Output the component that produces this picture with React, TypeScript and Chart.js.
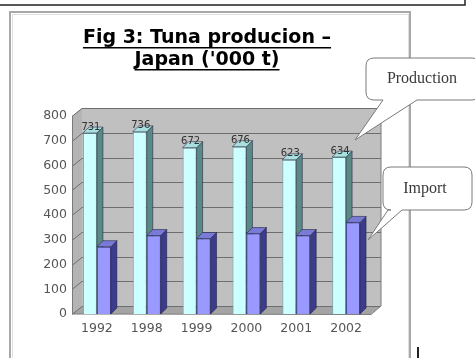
import React, { useEffect, useRef } from "react";
import { Chart, registerables } from "chart.js";

Chart.register(...registerables);

const years = ["1992", "1998", "1999", "2000", "2001", "2002"];
const production = [731, 736, 672, 676, 623, 634];
const imports = [272, 317, 305, 325, 317, 370];
const yMax = 800;
const yStep = 100;
const titleLines = ["Fig 3: Tuna producion \u2013", "Japan ('000 t)"];
const seriesNames = ["Production", "Import"];

const WDX = 10;
const WDY = 8;
const BDX = 6;
const BDY = 6;

const FONT = "'DejaVu Sans', Verdana, sans-serif";
const TITLE_SIZE = 19;
const TITLE_LH = 22 / 19;
const TITLE_PAD_TOP = 15;

const sideColors = ["#5a8a86", "#3c3c8c"];
const topColors = ["#a8e0e0", "#7a7ad8"];

function drawCallout(
  ctx: CanvasRenderingContext2D,
  x: number,
  y: number,
  w: number,
  h: number,
  r: number,
  t1: number,
  t2: number,
  tipX: number,
  tipY: number,
  text: string,
  textX: number
) {
  const b = y + h;
  const rr = x + w;
  ctx.save();
  ctx.beginPath();
  ctx.moveTo(x + r, y);
  ctx.lineTo(rr - r, y);
  ctx.quadraticCurveTo(rr, y, rr, y + r);
  ctx.lineTo(rr, b - r);
  ctx.quadraticCurveTo(rr, b, rr - r, b);
  ctx.lineTo(t2, b);
  ctx.lineTo(tipX, tipY);
  ctx.lineTo(t1, b);
  ctx.lineTo(x + r, b);
  ctx.quadraticCurveTo(x, b, x, b - r);
  ctx.lineTo(x, y + r);
  ctx.quadraticCurveTo(x, y, x + r, y);
  ctx.closePath();
  ctx.fillStyle = "#ffffff";
  ctx.fill();
  ctx.strokeStyle = "#7a7a7a";
  ctx.lineWidth = 1;
  ctx.stroke();
  ctx.fillStyle = "#3a3a3a";
  ctx.font = '16px "Liberation Serif", "Times New Roman", serif';
  ctx.textAlign = "center";
  ctx.textBaseline = "middle";
  ctx.fillText(text, textX, y + h / 2);
  ctx.restore();
}

function drawSidesAndTops(ctx: CanvasRenderingContext2D, meta: any, idx: number) {
  meta.data.forEach((el: any) => {
    const { x, y, base, width } = el.getProps(["x", "y", "base", "width"], true);
    const l = x - width / 2;
    const r = x + width / 2;
    ctx.fillStyle = sideColors[idx];
    ctx.beginPath();
    ctx.moveTo(r, y);
    ctx.lineTo(r + BDX, y - BDY);
    ctx.lineTo(r + BDX, base - BDY);
    ctx.lineTo(r, base);
    ctx.closePath();
    ctx.fill();
    ctx.strokeStyle = "rgba(30,30,60,0.7)";
    ctx.lineWidth = 0.8;
    ctx.stroke();
    ctx.fillStyle = topColors[idx];
    ctx.beginPath();
    ctx.moveTo(l, y);
    ctx.lineTo(l + BDX, y - BDY);
    ctx.lineTo(r + BDX, y - BDY);
    ctx.lineTo(r, y);
    ctx.closePath();
    ctx.fill();
    ctx.stroke();
  });
}

const pagePlugin = {
  id: "pageDecor",
  beforeDraw(chart: any) {
    const ctx = chart.ctx as CanvasRenderingContext2D;
    ctx.save();
    ctx.fillStyle = "#ffffff";
    ctx.fillRect(0, 0, chart.width, chart.height);
    // top text box border
    ctx.strokeStyle = "#222";
    ctx.lineWidth = 1.5;
    ctx.beginPath();
    ctx.moveTo(0, 5);
    ctx.lineTo(465, 5);
    ctx.lineTo(465, -2);
    ctx.stroke();
    // chart frame
    ctx.strokeStyle = "#a8a8a8";
    ctx.lineWidth = 2;
    ctx.strokeRect(10, 12, 400, 400);
    ctx.strokeStyle = "#e0e0e0";
    ctx.lineWidth = 1;
    ctx.strokeRect(12.5, 14.5, 396, 396);
    // small cursor mark
    ctx.fillStyle = "#222";
    ctx.fillRect(417, 347, 2, 11);
    ctx.restore();
  },
  beforeDatasetsDraw(chart: any) {
    const ctx = chart.ctx as CanvasRenderingContext2D;
    const { left: L, right: R, top: T, bottom: B } = chart.chartArea;
    const ys = chart.scales.y;
    ctx.save();
    // left wall
    ctx.fillStyle = "#b4b4b4";
    ctx.beginPath();
    ctx.moveTo(L, T);
    ctx.lineTo(L + WDX, T - WDY);
    ctx.lineTo(L + WDX, B - WDY);
    ctx.lineTo(L, B);
    ctx.closePath();
    ctx.fill();
    // back wall
    ctx.fillStyle = "#c0c0c0";
    ctx.fillRect(L + WDX, T - WDY, R - L, B - T);
    // floor
    ctx.fillStyle = "#a4a4a4";
    ctx.beginPath();
    ctx.moveTo(L, B);
    ctx.lineTo(L + WDX, B - WDY);
    ctx.lineTo(R + WDX, B - WDY);
    ctx.lineTo(R, B);
    ctx.closePath();
    ctx.fill();
    // gridlines
    ctx.strokeStyle = "#6e6e6e";
    ctx.lineWidth = 1;
    for (let v = 0; v <= yMax; v += yStep) {
      const y = Math.round(ys.getPixelForValue(v)) + 0.5;
      ctx.beginPath();
      ctx.moveTo(L, y);
      ctx.lineTo(L + WDX, y - WDY);
      ctx.lineTo(R + WDX, y - WDY);
      ctx.stroke();
    }
    // wall edges
    ctx.strokeStyle = "#7a7a7a";
    ctx.beginPath();
    ctx.moveTo(L + 0.5, T);
    ctx.lineTo(L + 0.5, B);
    ctx.lineTo(R, B + 0.5);
    ctx.lineTo(R + WDX, B - WDY);
    ctx.lineTo(R + WDX, T - WDY);
    ctx.stroke();
    ctx.restore();
  },
  afterDatasetsDraw(chart: any) {
    const ctx = chart.ctx as CanvasRenderingContext2D;
    const prodMeta = chart.getDatasetMeta(0);
    const impMeta = chart.getDatasetMeta(1);
    ctx.save();
    drawSidesAndTops(ctx, prodMeta, 0);
    // redraw import front faces on top of production side faces
    impMeta.data.forEach((el: any) => el.draw(ctx, chart.chartArea));
    drawSidesAndTops(ctx, impMeta, 1);
    // value labels
    ctx.fillStyle = "#333";
    ctx.font = `10px ${FONT}`;
    ctx.textAlign = "center";
    ctx.textBaseline = "middle";
    prodMeta.data.forEach((el: any, i: number) => {
      const { x, y } = el.getProps(["x", "y"], true);
      ctx.fillText(String(production[i]), x + 1, y - 6);
    });
    ctx.restore();
  },
  afterDraw(chart: any) {
    const ctx = chart.ctx as CanvasRenderingContext2D;
    const tb = chart.titleBlock;
    ctx.save();
    if (tb) {
      const cx = (tb.left + tb.right) / 2;
      const lh = TITLE_SIZE * TITLE_LH;
      ctx.font = `bold ${TITLE_SIZE}px ${FONT}`;
      ctx.fillStyle = "#000";
      titleLines.forEach((line, i) => {
        const w = ctx.measureText(line).width;
        const cy = tb.top + TITLE_PAD_TOP + lh / 2 + i * lh;
        ctx.fillRect(cx - w / 2, cy + 9, w, 1.5);
      });
    }
    ctx.restore();
    drawCallout(ctx, 366, 58, 114, 42, 8, 383, 417, 355, 140, seriesNames[0], 422);
    drawCallout(ctx, 383, 167, 89, 43, 8, 388, 402, 368, 240, seriesNames[1], 425);
  },
};

export default function App() {
  const ref = useRef<HTMLCanvasElement | null>(null);
  useEffect(() => {
    if (!ref.current) return;
    const chart = new Chart(ref.current, {
      type: "bar",
      data: {
        labels: years,
        datasets: [
          {
            label: seriesNames[0],
            data: production,
            backgroundColor: "#ccffff",
            borderColor: "#7fa8a8",
            borderWidth: 1,
          },
          {
            label: seriesNames[1],
            data: imports,
            backgroundColor: "#9999ff",
            borderColor: "#4a4aa0",
            borderWidth: 1,
          },
        ],
      },
      options: {
        responsive: false,
        animation: false,
        devicePixelRatio: 1,
        layout: { padding: { left: 43, right: 104, top: 12, bottom: 14 } },
        datasets: { bar: { categoryPercentage: 0.56, barPercentage: 1 } },
        plugins: {
          legend: { display: false },
          tooltip: { enabled: false },
          title: {
            display: true,
            text: titleLines,
            color: "#000",
            font: { family: FONT, size: TITLE_SIZE, weight: "bold", lineHeight: TITLE_LH },
            padding: { top: TITLE_PAD_TOP, bottom: 45 },
          },
        },
        scales: {
          x: {
            grid: { display: false, drawTicks: false },
            border: { display: false },
            ticks: { color: "#555", padding: 7.5, font: { family: FONT, size: 12.5 } },
          },
          y: {
            min: 0,
            max: yMax,
            afterFit: (s: any) => {
              s.width = 29;
            },
            grid: { display: false, drawTicks: false },
            border: { display: false },
            ticks: {
              stepSize: yStep,
              color: "#555",
              padding: 5,
              font: { family: FONT, size: 12.5 },
            },
          },
        },
      },
      plugins: [pagePlugin],
    });
    return () => chart.destroy();
  }, []);
  return (
    <div style={{ position: "absolute", left: 0, top: 0, width: 475, height: 358, overflow: "hidden" }}>
      <canvas ref={ref} width={475} height={358} style={{ display: "block", width: 475, height: 358 }} />
    </div>
  );
}
